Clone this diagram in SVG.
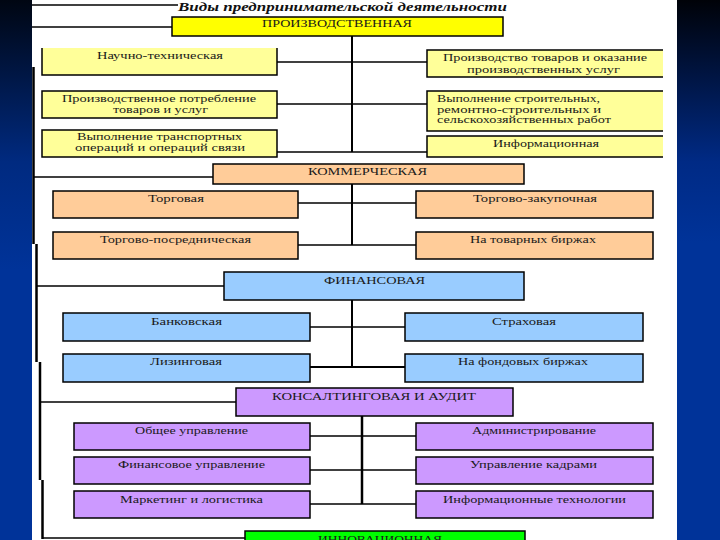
<svg xmlns="http://www.w3.org/2000/svg" width="720" height="540" viewBox="0 0 720 540">
<defs>
<linearGradient id="gl" x1="0" y1="0" x2="0" y2="1">
<stop offset="0" stop-color="#000612"/>
<stop offset="0.3" stop-color="#002a80"/>
<stop offset="0.5" stop-color="#003399"/>
<stop offset="1" stop-color="#003399"/>
</linearGradient>
<linearGradient id="gr" x1="0" y1="0" x2="0" y2="1">
<stop offset="0" stop-color="#000208"/>
<stop offset="0.3" stop-color="#002a85"/>
<stop offset="0.45" stop-color="#003399"/>
<stop offset="1" stop-color="#003399"/>
</linearGradient>
</defs>
<style>
.bx{stroke:#000;stroke-width:1.5}
.ed{fill:none;stroke:#000;stroke-width:1.5}
.y{fill:#FFFF99}
.Y{fill:#FFFF00}
.o{fill:#FFCC99}
.b{fill:#99CCFF}
.v{fill:#CC99FF}
.g{fill:#00FF00}
.t{font-family:"Liberation Serif","Times New Roman",serif;font-size:11px;fill:#1a1a1a}
.s{font-size:10px}
.h{font-family:"Liberation Serif","Times New Roman",serif;font-size:12px;font-style:italic;font-weight:bold;fill:#111}
#conn line,#conn path{stroke:#000;fill:none}
</style>
<rect x="0" y="0" width="720" height="540" fill="#fff"/>
<rect x="0" y="0" width="32" height="540" fill="url(#gl)"/>
<rect x="677" y="0" width="43" height="540" fill="url(#gr)"/>

<g id="title"><text class="h" x="178" y="11" textLength="329" lengthAdjust="spacingAndGlyphs">Виды предпринимательской деятельности</text></g>

<g id="conn">
<line x1="32" y1="5" x2="178" y2="5" stroke-width="1.5"/>
<line x1="32" y1="27" x2="172" y2="27" stroke-width="1.5"/>
<path d="M33.5,67 V244 M36.5,244 V362 M40,362 V480 M42.5,480 V539" stroke-width="2.5"/>
<line x1="34" y1="177" x2="213" y2="177" stroke-width="1.5"/>
<line x1="37" y1="286" x2="224" y2="286" stroke-width="1.5"/>
<line x1="40" y1="402" x2="236" y2="402" stroke-width="1.5"/>
<line x1="42" y1="538" x2="245" y2="538" stroke-width="1.5"/>
<line x1="352" y1="36" x2="352" y2="152" stroke-width="2"/>
<line x1="277" y1="62" x2="427" y2="62" stroke-width="1.5"/>
<line x1="277" y1="104" x2="427" y2="104" stroke-width="1.5"/>
<line x1="277" y1="152" x2="427" y2="152" stroke-width="1.5"/>
<line x1="352" y1="184" x2="352" y2="245" stroke-width="2"/>
<line x1="298" y1="203" x2="416" y2="203" stroke-width="1.5"/>
<line x1="298" y1="245" x2="416" y2="245" stroke-width="1.5"/>
<line x1="352" y1="300" x2="352" y2="367" stroke-width="2"/>
<line x1="310" y1="327" x2="405" y2="327" stroke-width="1.5"/>
<line x1="310" y1="367" x2="405" y2="367" stroke-width="2"/>
<line x1="362" y1="416" x2="362" y2="504" stroke-width="2.5"/>
<line x1="310" y1="436" x2="416" y2="436" stroke-width="1.5"/>
<line x1="310" y1="470" x2="416" y2="470" stroke-width="1.5"/>
<line x1="310" y1="504" x2="416" y2="504" stroke-width="1.5"/>
</g>

<g id="n-proizv"><rect class="bx Y" x="172" y="17" width="331" height="19"/><text class="t" x="262" y="27" textLength="150" lengthAdjust="spacingAndGlyphs">ПРОИЗВОДСТВЕННАЯ</text></g>
<g id="n-nauch"><rect class="y" x="42" y="48" width="235" height="27"/><path class="ed" d="M42,48 V75 H277 V48"/><text class="t" x="97" y="59" textLength="126" lengthAdjust="spacingAndGlyphs">Научно-техническая</text></g>
<g id="n-potr"><rect class="bx y" x="42" y="91" width="235" height="27"/><text class="t" x="62" y="102" textLength="194" lengthAdjust="spacingAndGlyphs">Производственное потребление</text><text class="t" x="113" y="113" textLength="95" lengthAdjust="spacingAndGlyphs">товаров и услуг</text></g>
<g id="n-transp"><rect class="bx y" x="42" y="130" width="235" height="27"/><text class="t" x="77" y="140" textLength="165" lengthAdjust="spacingAndGlyphs">Выполнение транспортных</text><text class="t" x="75" y="151" textLength="170" lengthAdjust="spacingAndGlyphs">операций и операций связи</text></g>
<g id="n-tovar"><rect class="y" x="427" y="50" width="236" height="27"/><path class="ed" d="M663,50 H427 V77 H663"/><text class="t" x="443" y="61" textLength="204" lengthAdjust="spacingAndGlyphs">Производство товаров и оказание</text><text class="t" x="467" y="73" textLength="153" lengthAdjust="spacingAndGlyphs">производственных услуг</text></g>
<g id="n-stroit"><rect class="y" x="427" y="91" width="236" height="40"/><path class="ed" d="M663,91 H427 V131 H663"/><text class="t s" x="437" y="102" textLength="163" lengthAdjust="spacingAndGlyphs">Выполнение строительных,</text><text class="t s" x="437" y="112.5" textLength="164" lengthAdjust="spacingAndGlyphs">ремонтно-строительных и</text><text class="t s" x="437" y="123" textLength="174" lengthAdjust="spacingAndGlyphs">сельскохозяйственных работ</text></g>
<g id="n-inform"><rect class="y" x="427" y="136" width="236" height="21"/><path class="ed" d="M663,136 H427 V157 H663"/><text class="t" x="493" y="147" textLength="106" lengthAdjust="spacingAndGlyphs">Информационная</text></g>

<g id="n-komm"><rect class="bx o" x="213" y="164" width="311" height="20"/><text class="t" x="308" y="175" textLength="119" lengthAdjust="spacingAndGlyphs">КОММЕРЧЕСКАЯ</text></g>
<g id="n-torg"><rect class="bx o" x="53" y="191" width="245" height="27"/><text class="t" x="148" y="202" textLength="56" lengthAdjust="spacingAndGlyphs">Торговая</text></g>
<g id="n-posr"><rect class="bx o" x="53" y="232" width="245" height="27"/><text class="t" x="100" y="243" textLength="151" lengthAdjust="spacingAndGlyphs">Торгово-посредническая</text></g>
<g id="n-zakup"><rect class="bx o" x="416" y="191" width="237" height="27"/><text class="t" x="473" y="202" textLength="124" lengthAdjust="spacingAndGlyphs">Торгово-закупочная</text></g>
<g id="n-tbirzh"><rect class="bx o" x="416" y="232" width="237" height="27"/><text class="t" x="470" y="243" textLength="126" lengthAdjust="spacingAndGlyphs">На товарных биржах</text></g>

<g id="n-fin"><rect class="bx b" x="224" y="272" width="300" height="28"/><text class="t" x="324" y="284" textLength="101" lengthAdjust="spacingAndGlyphs">ФИНАНСОВАЯ</text></g>
<g id="n-bank"><rect class="bx b" x="63" y="313" width="247" height="28"/><text class="t" x="151" y="325" textLength="71" lengthAdjust="spacingAndGlyphs">Банковская</text></g>
<g id="n-lizing"><rect class="bx b" x="63" y="354" width="247" height="28"/><text class="t" x="150" y="365" textLength="72" lengthAdjust="spacingAndGlyphs">Лизинговая</text></g>
<g id="n-strah"><rect class="bx b" x="405" y="313" width="238" height="28"/><text class="t" x="492" y="325" textLength="64" lengthAdjust="spacingAndGlyphs">Страховая</text></g>
<g id="n-fbirzh"><rect class="bx b" x="405" y="354" width="238" height="28"/><text class="t" x="458" y="365" textLength="130" lengthAdjust="spacingAndGlyphs">На фондовых биржах</text></g>

<g id="n-kons"><rect class="bx v" x="236" y="388" width="277" height="28"/><text class="t" x="272" y="400" textLength="204" lengthAdjust="spacingAndGlyphs">КОНСАЛТИНГОВАЯ И АУДИТ</text></g>
<g id="n-obsh"><rect class="bx v" x="74" y="423" width="236" height="27"/><text class="t" x="135" y="434" textLength="113" lengthAdjust="spacingAndGlyphs">Общее управление</text></g>
<g id="n-finupr"><rect class="bx v" x="74" y="457" width="236" height="27"/><text class="t" x="118" y="468" textLength="147" lengthAdjust="spacingAndGlyphs">Финансовое управление</text></g>
<g id="n-mark"><rect class="bx v" x="74" y="491" width="236" height="27"/><text class="t" x="120" y="503" textLength="143" lengthAdjust="spacingAndGlyphs">Маркетинг и логистика</text></g>
<g id="n-admin"><rect class="bx v" x="416" y="423" width="237" height="27"/><text class="t" x="472" y="434" textLength="124" lengthAdjust="spacingAndGlyphs">Администрирование</text></g>
<g id="n-kadr"><rect class="bx v" x="416" y="457" width="237" height="27"/><text class="t" x="470" y="468" textLength="127" lengthAdjust="spacingAndGlyphs">Управление кадрами</text></g>
<g id="n-it"><rect class="bx v" x="416" y="491" width="237" height="27"/><text class="t" x="443" y="503" textLength="183" lengthAdjust="spacingAndGlyphs">Информационные технологии</text></g>

<g id="n-innov"><rect class="bx g" x="245" y="531" width="280" height="20"/><text class="t" x="318" y="543" textLength="124" lengthAdjust="spacingAndGlyphs">ИННОВАЦИОННАЯ</text></g>
</svg>
